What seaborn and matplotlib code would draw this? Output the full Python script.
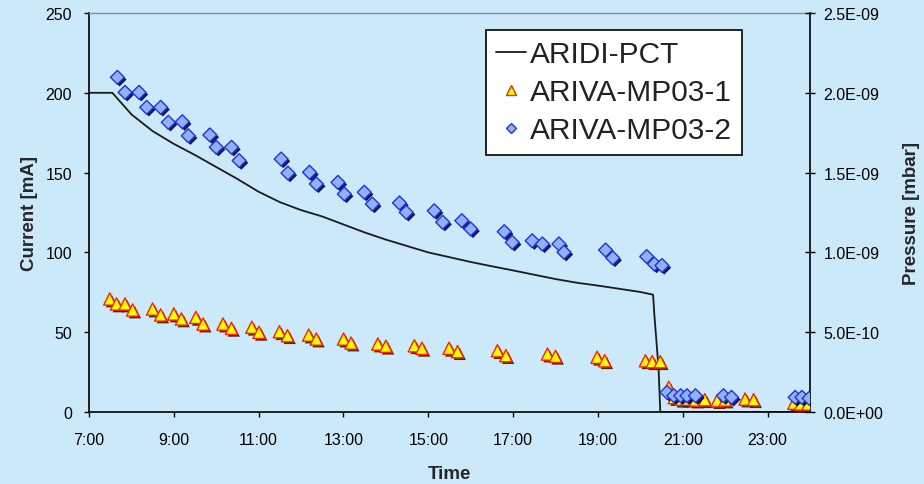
import matplotlib
matplotlib.use("Agg")
import numpy as np
import pandas as pd
import seaborn as sns
import matplotlib.pyplot as plt
import matplotlib.patheffects as pe
from matplotlib.lines import Line2D
from matplotlib.ticker import FuncFormatter

# ---------------- data ----------------
# ARIDI-PCT beam current [mA] vs time [h]
pct_time = [7.0, 7.55, 7.75, 8.0, 8.5, 9.0, 9.5, 10.0, 10.5, 11.0, 11.5, 12.0,
            12.5, 13.0, 13.5, 14.0, 14.5, 15.0, 15.5, 16.0, 16.5, 17.0, 17.5,
            18.0, 18.5, 19.0, 19.5, 20.0, 20.3, 20.33, 20.38, 20.43, 20.47, 24.0]
pct_current = [200, 200, 194, 186.5, 176, 168, 161, 153.5, 146, 138, 131.5, 126.5,
               122.5, 117.5, 112.5, 108, 104, 100, 97, 94, 91.3, 88.7, 86,
               83.3, 81, 79.2, 77.2, 75.2, 73.5, 61, 44, 27, 0, 0]

# ARIVA-MP03-1 pressure [mbar]
mp1_time = [7.49, 7.65, 7.85, 8.03, 8.5, 8.69, 9.0, 9.18, 9.52, 9.69, 10.16, 10.36,
            10.84, 11.01, 11.49, 11.68, 12.18, 12.36, 13.0, 13.18, 13.81, 14.0,
            14.67, 14.85, 15.49, 15.69, 16.63, 16.83, 17.81, 18.0, 18.98, 19.16,
            20.12, 20.28, 20.47, 20.67, 20.8, 20.95, 21.1, 21.3, 21.52, 21.81,
            22.0, 22.47, 22.67, 23.62, 23.78, 23.95]
mp1_pressure = [7.08e-10, 6.77e-10, 6.77e-10, 6.39e-10, 6.45e-10, 6.08e-10, 6.14e-10,
                5.83e-10, 5.93e-10, 5.51e-10, 5.51e-10, 5.24e-10, 5.31e-10, 4.99e-10,
                5.03e-10, 4.78e-10, 4.82e-10, 4.57e-10, 4.57e-10, 4.32e-10, 4.26e-10,
                4.12e-10, 4.15e-10, 3.99e-10, 3.99e-10, 3.78e-10, 3.84e-10, 3.53e-10,
                3.63e-10, 3.49e-10, 3.43e-10, 3.21e-10, 3.21e-10, 3.15e-10, 3.15e-10,
                1.55e-10, 9.0e-11, 8.0e-11, 8.0e-11, 7.5e-11, 7.7e-11, 7.1e-11,
                7.5e-11, 8.1e-11, 7.7e-11, 5.5e-11, 5.0e-11, 5.0e-11]

# ARIVA-MP03-2 pressure [mbar]
mp2_time = [7.67, 7.85, 8.18, 8.36, 8.69, 8.87, 9.2, 9.34, 9.85, 10.0, 10.36, 10.54,
            11.53, 11.69, 12.2, 12.36, 12.87, 13.02, 13.49, 13.68, 14.32, 14.48,
            15.14, 15.34, 15.79, 16.0, 16.79, 16.98, 17.45, 17.69, 18.08, 18.2,
            19.18, 19.35, 20.15, 20.33, 20.51, 20.63, 20.79, 20.95, 21.1, 21.3,
            21.96, 22.15, 23.65, 23.81, 23.98]
mp2_pressure = [2.097e-09, 2.003e-09, 2.003e-09, 1.909e-09, 1.909e-09, 1.815e-09,
                1.819e-09, 1.731e-09, 1.736e-09, 1.659e-09, 1.659e-09, 1.575e-09,
                1.585e-09, 1.497e-09, 1.502e-09, 1.429e-09, 1.439e-09, 1.366e-09,
                1.377e-09, 1.303e-09, 1.310e-09, 1.251e-09, 1.261e-09, 1.189e-09,
                1.199e-09, 1.147e-09, 1.130e-09, 1.063e-09, 1.073e-09, 1.053e-09,
                1.053e-09, 1.001e-09, 1.015e-09, 9.65e-10, 9.74e-10, 9.27e-10,
                9.18e-10, 1.23e-10, 1.02e-10, 1.02e-10, 1.02e-10, 1.02e-10,
                1.02e-10, 9.2e-11, 9.2e-11, 9.2e-11, 8.6e-11]

x_tick_hours = [7, 9, 11, 13, 15, 17, 19, 21, 23]
x_tick_labels = ["7:00", "9:00", "11:00", "13:00", "15:00", "17:00", "19:00", "21:00", "23:00"]
current_ticks = [0, 50, 100, 150, 200, 250]
pressure_ticks = [0, 5e-10, 1e-9, 1.5e-9, 2e-9, 2.5e-9]
series_names = ["ARIDI-PCT", "ARIVA-MP03-1", "ARIVA-MP03-2"]

# ---------------- style ----------------
sns.set_style("ticks")
plt.rcParams["font.family"] = ["Liberation Sans", "DejaVu Sans"]

BG = "#CCE9F9"
TRI_FACE, TRI_EDGE = "#FFFF00", "#FF2000"
DIA_FACE, DIA_EDGE = "#8FB3F2", "#2233DD"
LINE_C = "#1a1a1a"

df_pct = pd.DataFrame({"time": pct_time, "current": pct_current})
df_mp1 = pd.DataFrame({"time": mp1_time, "pressure": mp1_pressure})
df_mp2 = pd.DataFrame({"time": mp2_time, "pressure": mp2_pressure})

fig = plt.figure(figsize=(9.24, 4.85), dpi=100, facecolor=BG)
ax = fig.add_axes([89 / 924, 1 - 413 / 485, 721 / 924, 399 / 485])
ax.set_facecolor(BG)
ax2 = ax.twinx()

sns.lineplot(data=df_pct, x="time", y="current", ax=ax, color=LINE_C, lw=1.3,
             estimator=None, sort=False, legend=False)

sns.scatterplot(data=df_mp1, x="time", y="pressure", ax=ax2, marker="^", s=78,
                color=TRI_FACE, edgecolor=TRI_EDGE, linewidth=1.0, legend=False, zorder=3)
ax2.collections[-1].set_path_effects([
    pe.SimplePatchShadow(offset=(1.6, -1.6), shadow_rgbFace="#4a1000", alpha=0.9),
    pe.Normal()])
sns.scatterplot(data=df_mp2, x="time", y="pressure", ax=ax2, marker="D", s=50,
                color=DIA_FACE, edgecolor=DIA_EDGE, linewidth=1.0, legend=False, zorder=4)
ax2.collections[-1].set_path_effects([
    pe.SimplePatchShadow(offset=(1.6, -1.6), shadow_rgbFace="#000050", alpha=0.9),
    pe.Normal()])

# axes limits and ticks
ax.set_xlim(7, 24)
ax.set_ylim(0, 250)
ax2.set_ylim(0, 2.5e-9)
ax.set_xticks(x_tick_hours)
ax.set_xticklabels(x_tick_labels)
ax.set_yticks(current_ticks)
ax2.set_yticks(pressure_ticks)
ax2.yaxis.set_major_formatter(FuncFormatter(lambda v, p: f"{v:.1E}"))

ax.tick_params(axis="x", direction="out", length=3.6, width=1.0, pad=11,
               labelsize=11.5, colors="black")
ax.tick_params(axis="y", direction="out", length=3.6, width=1.0, pad=8.5,
               labelsize=11.5, colors="black")
ax2.tick_params(axis="y", direction="inout", length=7.2, width=1.0, pad=6,
                labelsize=11.5, colors="black")

for s in ["left", "bottom"]:
    ax.spines[s].set_color("black")
    ax.spines[s].set_linewidth(1.2)
ax.spines["top"].set_color("#8a8a8a")
ax.spines["top"].set_linewidth(1.0)
ax.spines["right"].set_visible(False)
for s in ["left", "bottom", "top"]:
    ax2.spines[s].set_visible(False)
ax2.spines["right"].set_color("black")
ax2.spines["right"].set_linewidth(1.2)

ax.set_xlabel("Time", fontsize=13.5, fontweight="bold")
ax.set_ylabel("Current [mA]", fontsize=13.5, fontweight="bold")
ax2.set_ylabel("Pressure [mbar]", fontsize=13.5, fontweight="bold")
ax.xaxis.set_label_coords(0.5, -0.133)
ax.yaxis.set_label_coords(-0.0707, 0.5)
ax2.yaxis.set_label_coords(1.129, 0.5)

handles = [
    Line2D([], [], color=LINE_C, lw=1.3),
    Line2D([], [], marker="^", ls="none", markersize=7.5, mfc=TRI_FACE, mec=TRI_EDGE, mew=1.0),
    Line2D([], [], marker="D", ls="none", markersize=5.5, mfc=DIA_FACE, mec=DIA_EDGE, mew=1.0),
]
leg = ax2.legend(handles, series_names, loc="upper right",
                 bbox_to_anchor=(0.9057, 0.9574), bbox_transform=ax.transAxes,
                 fontsize=21.5, frameon=True, fancybox=False, edgecolor="black",
                 facecolor="white", framealpha=1, borderpad=0.35, labelspacing=0.33,
                 handlelength=1.0, handletextpad=0.12, borderaxespad=0)
leg.get_frame().set_linewidth(1.2)
for t in leg.get_texts():
    t.set_color("#222222")

fig.savefig("out.png", dpi=100, facecolor=BG)
